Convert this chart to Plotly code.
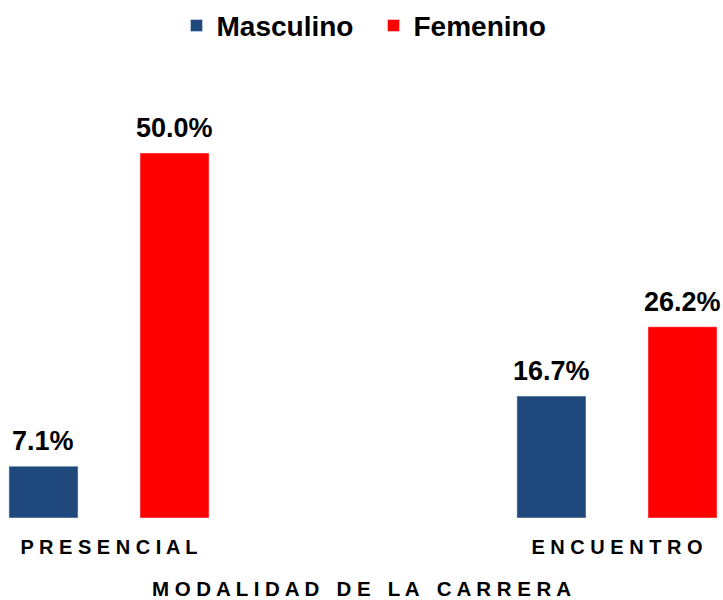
import plotly.graph_objects as go

categories = ["PRESENCIAL", "ENCUENTRO"]
masculino = [7.1, 16.7]
femenino = [50.0, 26.2]
axis_title = "MODALIDAD DE LA CARRERA"


def spaced(s):
    # wide letter spacing like the original
    return "\u00a0\u00a0\u00a0".join(" ".join(w) for w in s.split(" "))


fig = go.Figure()
fig.add_trace(go.Bar(x=categories, y=masculino, name="<b>Masculino</b>", marker_color="#1F497D"))
fig.add_trace(go.Bar(x=categories, y=femenino, name="<b>Femenino</b>", marker_color="#FF0000"))

# value labels above each bar
offset = 0.129
for i, cat in enumerate(categories):
    for dx, vals in ((-offset, masculino), (offset, femenino)):
        fig.add_annotation(x=i + dx, y=vals[i], text=f"<b>{vals[i]:.1f}%</b>",
                           showarrow=False, yanchor="bottom", yshift=8,
                           font=dict(size=27, color="black"))

fig.update_layout(
    width=723, height=600,
    margin=dict(l=0, r=0, t=100, b=82),
    plot_bgcolor="white", paper_bgcolor="white",
    barmode="group", bargap=0.484, bargroupgap=0.473,
    font=dict(family="Arial, Liberation Sans", color="black"),
    legend=dict(orientation="h", x=0.5166, xanchor="center", y=0.957, yanchor="middle",
                yref="container", font=dict(size=28), itemwidth=30,
                entrywidth=152, entrywidthmode="pixels"),
    showlegend=True,
)
fig.update_xaxes(
    range=[-0.2146, 1.2087],
    tickvals=[0, 1], ticktext=[f"<b>{spaced(c)}</b>" for c in categories],
    tickfont=dict(size=20), ticklabelstandoff=15,
    showline=False, showgrid=False, zeroline=False,
    title=dict(text=f"<b>{spaced(axis_title)}</b>", font=dict(size=20.5), standoff=28),
    automargin=False,
)
fig.update_yaxes(range=[0, 57.26], visible=False)

fig.write_html("out.html", config={"displayModeBar": False},
               post_script="document.body.style.margin='0';")
